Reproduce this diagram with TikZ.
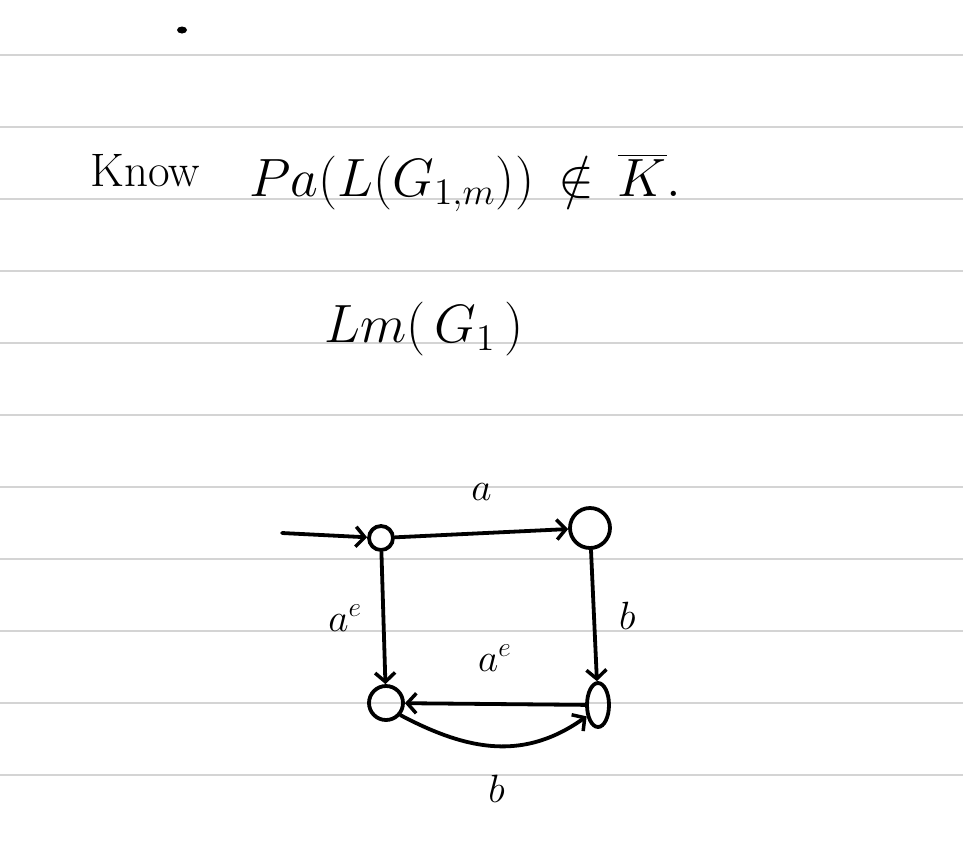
\documentclass[tikz,border=0pt]{standalone}
\usetikzlibrary{arrows.meta,shapes.geometric}
\begin{document}
\begin{tikzpicture}[x=1pt,y=-1pt,
  rule/.style={draw=black!17, line width=1.6pt},
  ink/.style={line width=3.8pt, line cap=round, line join=round},
  st/.style={draw, line width=3.8pt, inner sep=0pt},
  edge/.style={ink, -{Straight Barb[length=9pt,width=20pt,line width=3.5pt]}},
  big/.style={font=\fontsize{20}{20}\selectfont, scale=2.6},
  lab/.style={font=\fontsize{20}{20}\selectfont, scale=1.9}]
\fill[white] (0,0) rectangle (963,847);
\useasboundingbox (0,0) rectangle (963,847);
\foreach \y in {55,127,...,775} \draw[rule] (0,\y) -- (963,\y);
% stray dot
\fill (182,30) ellipse (5pt and 3.5pt);
% texts
\node[font=\fontsize{20}{20}\selectfont, scale=2.35, anchor=base west] (know) at (82,186) {Know};
\node[big, anchor=base west] (stmt) at (240,196) {$Pa(L(G_{1,m}))\,\notin\,\overline{K}.$};
\node[big, anchor=base west] (lm) at (315,342) {$Lm(\,G_{1}\,)$};
% states
\node[st, circle, minimum size=24pt] (q0) at (381,538) {};
\node[st, circle, minimum size=40pt] (q1) at (590,528) {};
\node[st, circle, minimum size=34pt] (q2) at (386,703) {};
\node[st, ellipse, minimum width=22pt, minimum height=44pt] (q3) at (598,705) {};
\coordinate (init) at (282,533);
% edges
\draw[edge] (init) -- (q0);
\draw[edge] (q0) -- node[lab, above=12pt] (la) {$a$} (q1);
\draw[edge] (q0) -- node[lab, left=6pt] (lae1) {$a^{e}$} (q2);
\draw[edge] (q1) -- node[lab, right=8pt] (lb1) {$b$} (q3);
\draw[edge] (q3) -- node[lab, above=12pt] (lae2) {$a^{e}$} (q2);
\draw[edge] (q2.-40) .. controls (470,752) and (525,760) .. (q3.-135) node[lab, pos=0.5, below=10pt] (lb2) {$b$};
\end{tikzpicture}
\end{document}
